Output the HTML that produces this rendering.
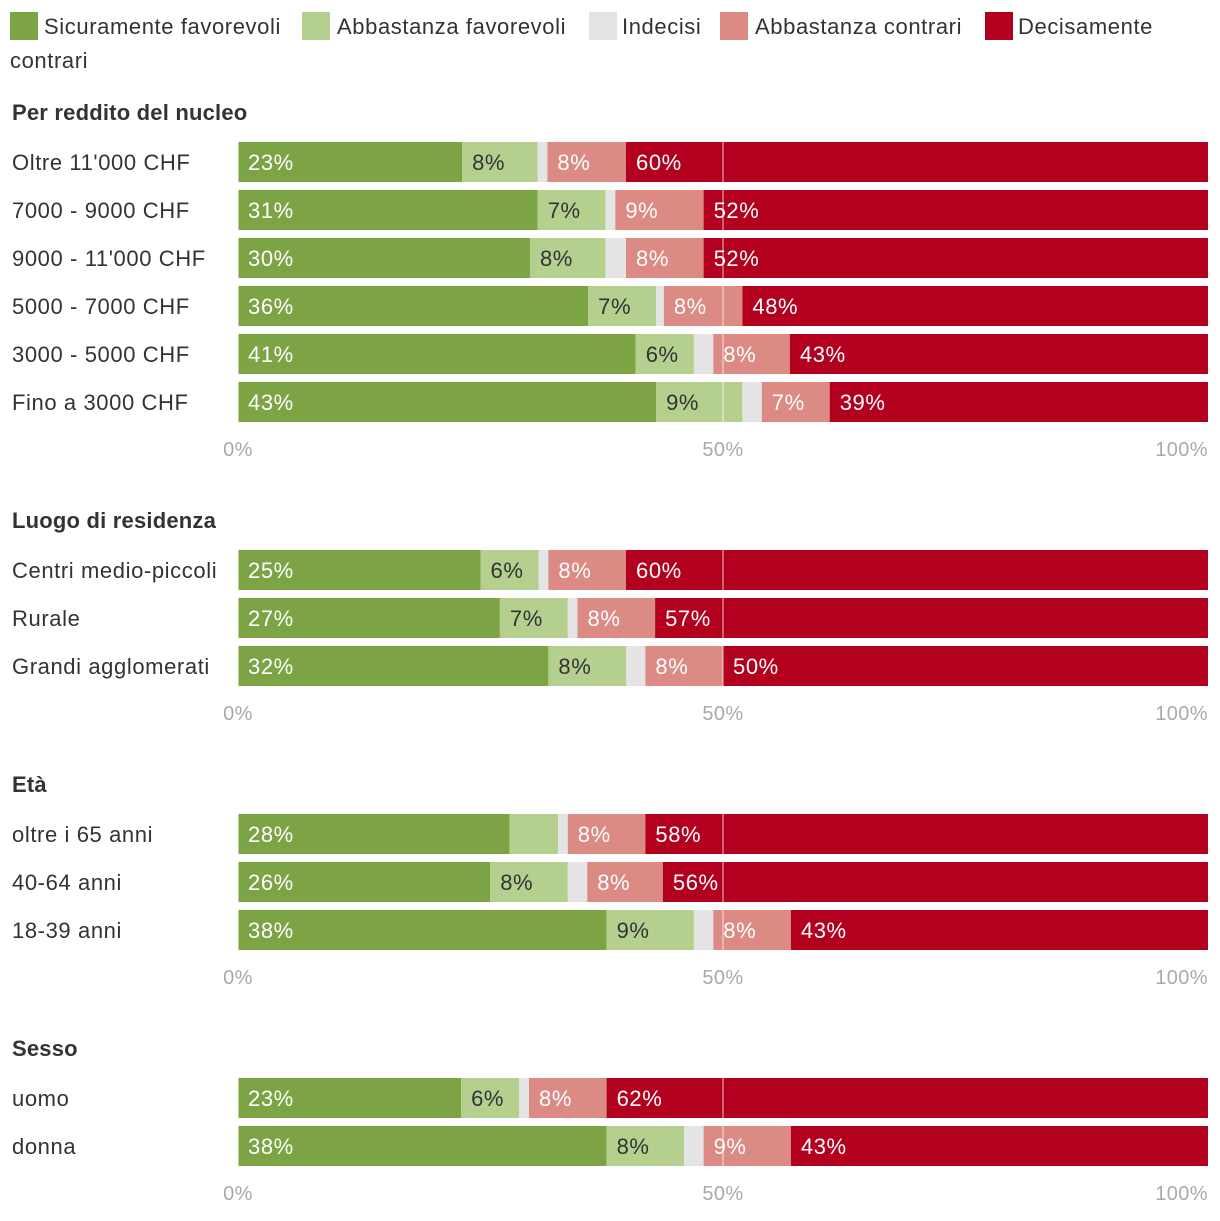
<!DOCTYPE html>
<html><head><meta charset="utf-8">
<style>
body{margin:0;background:#fff;width:1220px;height:1216px;overflow:hidden;font-family:"Liberation Sans",sans-serif;}
svg text{font-family:"Liberation Sans",sans-serif;}
</style></head>
<body>
<svg id="chart" width="1220" height="1216" xmlns="http://www.w3.org/2000/svg"></svg>
<script>
const seriesNames=["Sicuramente favorevoli","Abbastanza favorevoli","Indecisi","Abbastanza contrari","Decisamente contrari"];
const seriesColors=["#7ca444","#b5cf8f","#e4e4e4","#dc8a84","#b3001e"];
const sectionTitles=["Per reddito del nucleo","Luogo di residenza","Età","Sesso"];
const categories=[
 ["Oltre 11'000 CHF","7000 - 9000 CHF","9000 - 11'000 CHF","5000 - 7000 CHF","3000 - 5000 CHF","Fino a 3000 CHF"],
 ["Centri medio-piccoli","Rurale","Grandi agglomerati"],
 ["oltre i 65 anni","40-64 anni","18-39 anni"],
 ["uomo","donna"]
];
const values=[
 [[23.1,7.8,1,8.1,60],[30.9,7,1,9.1,52],[30.1,7.8,2.1,8,52],[36.1,7,0.8,8.1,48],[41,6,2,7.9,43.1],[43.1,8.9,2,7,39]],
 [[25,6,1,8,60],[27,7,1,8,57],[32,8,2,8,50]],
 [[28,5,1,8,58],[26,8,2,7.8,56.2],[38,9,2,8,43]],
 [[23,6,1,8,62],[38,8,2,9,43]]
];
const labels=[
 [["23%","8%","","8%","60%"],["31%","7%","","9%","52%"],["30%","8%","","8%","52%"],["36%","7%","","8%","48%"],["41%","6%","","8%","43%"],["43%","9%","","7%","39%"]],
 [["25%","6%","","8%","60%"],["27%","7%","","8%","57%"],["32%","8%","","8%","50%"]],
 [["28%","","","8%","58%"],["26%","8%","","8%","56%"],["38%","9%","","8%","43%"]],
 [["23%","6%","","8%","62%"],["38%","8%","","9%","43%"]]
];
const tickValues=[0,50,100];
const tickLabels=["0%","50%","100%"];

const svg=document.getElementById('chart');
const NS="http://www.w3.org/2000/svg";
const x0=238,x1=1208;
const LS='0.6';
function xs(v){return x0+(x1-x0)*v/100;}
function mk(t,a,p){const e=document.createElementNS(NS,t);for(const k in a)e.setAttribute(k,a[k]);(p||svg).appendChild(e);return e;}

const legPos=[[10,44],[302,337],[589,622],[720,755],[985,1018]];
seriesNames.forEach((n,i)=>{
 const g=mk('g',{});
 
 
 mk('rect',{x:legPos[i][0],y:12,width:28,height:28,fill:seriesColors[i]},g);
 if(i<4){const t=mk('text',{x:legPos[i][1],y:34,'font-size':22,'letter-spacing':LS,fill:'#333'},g);t.textContent=n;}
 else{const t=mk('text',{x:legPos[i][1],y:34,'font-size':22,'letter-spacing':LS,fill:'#333'},g);t.textContent="Decisamente";
  const t2=mk('text',{x:10,y:68,'font-size':22,'letter-spacing':LS,fill:'#333'},g);t2.textContent="contrari";}
});

const sectionTop=[112,520,784,1048];
categories.forEach((cats,s)=>{
 const g=mk('g',{});
 
 
 const tt=mk('text',{x:12,y:sectionTop[s]+8,'font-size':22,'letter-spacing':'0.2','font-weight':'bold',fill:'#333'},g);
 tt.textContent=sectionTitles[s];
 
 
 cats.forEach((c,r)=>{
  const cy=sectionTop[s]+50+r*48;
  const ct=mk('text',{x:12,y:cy+8,'font-size':22,'letter-spacing':LS,fill:'#333'},g);
  ct.textContent=c;
  
  
  let acc=0;
  values[s][r].forEach((v,i)=>{
   const rc=mk('rect',{x:xs(acc),y:cy-20,width:Math.max(0,xs(acc+v)-xs(acc)),height:40,fill:seriesColors[i]},g);
   
   
   const lb=labels[s][r][i];
   if(lb){const t=mk('text',{x:xs(acc)+10,y:cy+8,'font-size':22,'letter-spacing':LS,fill:(i==1?'#333':'#fff')},g);t.textContent=lb;
    
    }
   acc+=v;
  });
 });
 const n=cats.length;
 const top=sectionTop[s]+30, bot=sectionTop[s]+30+n*48-8;
 const ln=mk('line',{x1:xs(50),x2:xs(50),y1:top,y2:bot,stroke:'#fff','stroke-opacity':0.5,'stroke-width':1.5},g);
 
 
 mk('line',{x1:x0,x2:x0,y1:top,y2:bot,stroke:'#fff','stroke-width':1},g);
 const ay=bot+34;
 tickValues.forEach((tv,i)=>{
  const anchor=i==0?'middle':(i==tickValues.length-1?'end':'middle');
  const t=mk('text',{x:xs(tv),y:ay,'font-size':20,'letter-spacing':'0.4',fill:'#aaa','text-anchor':anchor},g);
  t.textContent=tickLabels[i];
  
  
 });
});
</script>
</body></html>
